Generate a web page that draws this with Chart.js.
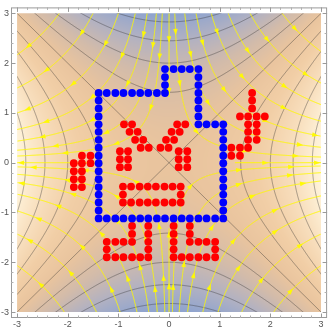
<!DOCTYPE html>
<html><head><meta charset="utf-8">
<script src="https://cdn.jsdelivr.net/npm/chart.js@4"></script>
<style>html,body{margin:0;padding:0;background:#fff;}#wrap{width:331px;height:330px;}</style>
</head><body><div id="wrap"><canvas id="c" width="331" height="330"></canvas></div>
<script>
// ---- data ----
const tickValues = [-3,-2,-1,0,1,2,3];
const tickLabels = ['-3','-2','-1','0','1','2','3'];
const contourLevels = [-8,-6,-4,-2,0,2,4,6,8];
const colorStops = [
  [-9,[141,163,207]],[-6,[177,177,194]],[-3,[210,187,170]],[0,[233,196,158]],
  [3,[241,206,166]],[6,[248,223,190]],[9,[255,245,221]]
];
// streamline constants |x*y| per quadrant
const streamQ1 = [0.34,0.93,1.6,2.5,3.5,4.8,6.7];
const streamQ2 = [0.4,0.75,1.3,2.0,3.0,4.5,6.5];
const streamQ3 = [0.25,0.7,1.2,1.9,2.9,4.3,6.2];
const streamQ4 = [0.2,0.6,1.1,2.0,2.9,4.3,6.2];

const bluePoints = [
  [-1.39,1.40],[-1.23,1.40],[-1.06,1.40],[-0.90,1.40],[-0.73,1.40],[-0.57,1.40],[-0.41,1.40],[-0.24,1.40],[-0.08,1.40],
  [-0.08,1.56],[-0.08,1.72],[-0.08,1.88],
  [0.09,1.88],[0.25,1.88],[0.41,1.88],[0.58,1.88],
  [0.58,1.72],[0.58,1.56],[0.58,1.40],[0.58,1.25],[0.58,1.09],[0.58,0.93],[0.58,0.77],
  [0.74,0.77],[0.91,0.77],[1.07,0.77],
  [1.07,0.62],[1.07,0.46],[1.07,0.30],[1.07,0.14],[1.07,-0.01],[1.07,-0.17],[1.07,-0.33],[1.07,-0.49],[1.07,-0.64],[1.07,-0.80],[1.07,-0.96],[1.07,-1.12],
  [0.91,-1.12],[0.74,-1.12],[0.58,-1.12],[0.41,-1.12],[0.25,-1.12],[0.09,-1.12],[-0.08,-1.12],[-0.24,-1.12],[-0.41,-1.12],[-0.57,-1.12],[-0.73,-1.12],[-0.90,-1.12],[-1.06,-1.12],[-1.23,-1.12],[-1.39,-1.12],
  [-1.39,-0.96],[-1.39,-0.80],[-1.39,-0.64],[-1.39,-0.49],[-1.39,-0.33],[-1.39,-0.17],[-1.39,-0.01],[-1.39,0.14],[-1.39,0.30],[-1.39,0.46],[-1.39,0.62],[-1.39,0.77],[-1.39,0.93],[-1.39,1.09],[-1.39,1.25]
];
const redPoints = [
  [-1.72,0.14],[-1.55,0.14],
  [-1.88,-0.01],[-1.72,-0.01],[-1.55,-0.01],
  [-1.88,-0.17],[-1.72,-0.17],
  [-1.88,-0.33],[-1.72,-0.33],
  [-1.88,-0.49],[-1.72,-0.49],
  [-0.89,0.77],[-0.73,0.77],[-0.78,0.62],[-0.62,0.62],[-0.67,0.46],[-0.51,0.46],[-0.56,0.30],[-0.40,0.30],
  [0.16,0.77],[0.32,0.77],[0.05,0.62],[0.21,0.62],[-0.06,0.46],[0.10,0.46],[-0.17,0.30],[-0.01,0.30],
  [-0.97,0.23],[-0.81,0.23],[-0.97,0.07],[-0.81,0.07],[-0.97,-0.09],[-0.81,-0.09],
  [0.19,0.23],[0.36,0.23],[0.19,0.07],[0.36,0.07],[0.19,-0.09],[0.36,-0.09],
  [-0.91,-0.48],[-0.75,-0.48],[-0.58,-0.48],[-0.42,-0.48],[-0.26,-0.48],[-0.09,-0.48],[0.07,-0.48],[0.23,-0.48],
  [-0.91,-0.64],[0.23,-0.64],
  [-0.91,-0.80],[-0.75,-0.80],[-0.58,-0.80],[-0.42,-0.80],[-0.26,-0.80],[-0.09,-0.80],[0.07,-0.80],[0.23,-0.80],
  [1.64,1.40],[1.64,1.25],[1.64,1.09],
  [1.40,0.93],[1.56,0.93],[1.73,0.93],[1.89,0.93],
  [1.56,0.77],[1.73,0.77],[1.56,0.62],[1.73,0.62],[1.56,0.46],[1.73,0.46],
  [1.23,0.30],[1.40,0.30],[1.56,0.30],
  [1.23,0.14],[1.40,0.14],
  [-0.73,-1.27],[-0.41,-1.27],[-0.73,-1.43],[-0.41,-1.43],
  [-1.23,-1.59],[-1.06,-1.59],[-0.90,-1.59],[-0.73,-1.59],[-0.41,-1.59],
  [-1.23,-1.74],[-0.41,-1.74],
  [-1.23,-1.90],[-1.06,-1.90],[-0.90,-1.90],[-0.73,-1.90],[-0.57,-1.90],[-0.41,-1.90],
  [0.09,-1.27],[0.41,-1.27],[0.09,-1.43],[0.41,-1.43],
  [0.09,-1.59],[0.41,-1.59],[0.58,-1.59],[0.74,-1.59],[0.91,-1.59],
  [0.09,-1.74],[0.91,-1.74],
  [0.09,-1.90],[0.25,-1.90],[0.41,-1.90],[0.58,-1.90],[0.74,-1.90],[0.91,-1.90]
];

// ---- helpers ----
function field(x,y){ return x*x - y*y; }
function colorAt(f){
  if (f<=colorStops[0][0]) return colorStops[0][1];
  for (let i=1;i<colorStops.length;i++){
    const a=colorStops[i-1], b=colorStops[i];
    if (f<=b[0]){ const t=(f-a[0])/(b[0]-a[0]);
      return [a[1][0]+(b[1][0]-a[1][0])*t, a[1][1]+(b[1][1]-a[1][1])*t, a[1][2]+(b[1][2]-a[1][2])*t]; }
  }
  return colorStops[colorStops.length-1][1];
}

const fieldPlugin = {
  id:'field',
  beforeDatasetsDraw(chart){
    const ctx = chart.ctx, sx = chart.scales.x, sy = chart.scales.y;
    const X = v=>sx.getPixelForValue(v), Y = v=>sy.getPixelForValue(v);
    const x0=X(-3), x1=X(3), y0=Y(3), y1=Y(-3);
    const L=Math.floor(x0), T=Math.floor(y0), W=Math.ceil(x1)-L, H=Math.ceil(y1)-T;
    const off=document.createElement('canvas'); off.width=W; off.height=H;
    const octx=off.getContext('2d'); const img=octx.createImageData(W,H);
    for (let j=0;j<H;j++){
      const yv=sy.getValueForPixel(T+j+0.5);
      for (let i=0;i<W;i++){
        const xv=sx.getValueForPixel(L+i+0.5);
        const c=colorAt(field(xv,yv)); const k=(j*W+i)*4;
        img.data[k]=c[0]; img.data[k+1]=c[1]; img.data[k+2]=c[2]; img.data[k+3]=255;
      }
    }
    octx.putImageData(img,0,0);
    ctx.save();
    ctx.beginPath(); ctx.rect(x0,y0,x1-x0,y1-y0); ctx.clip();
    ctx.drawImage(off,L,T);
    // contour lines
    ctx.strokeStyle='rgba(50,50,50,0.5)'; ctx.lineWidth=0.8;
    for (const c of contourLevels){
      if (c===0){
        ctx.beginPath(); ctx.moveTo(X(-3),Y(-3)); ctx.lineTo(X(3),Y(3));
        ctx.moveTo(X(-3),Y(3)); ctx.lineTo(X(3),Y(-3)); ctx.stroke();
      } else {
        for (const sgn of [-1,1]){
          ctx.beginPath();
          for (let u=-3.2; u<=3.2001; u+=0.01){
            let px,py;
            if (c>0){ px=X(sgn*Math.sqrt(c+u*u)); py=Y(u); }
            else { px=X(u); py=Y(sgn*Math.sqrt(-c+u*u)); }
            if (u<-3.19) ctx.moveTo(px,py); else ctx.lineTo(px,py);
          }
          ctx.stroke();
        }
      }
    }
    // streamlines of (x,-y)
    ctx.strokeStyle='rgba(255,250,0,0.95)'; ctx.fillStyle='rgba(255,250,0,0.95)'; ctx.lineWidth=1;
    function arrowsAlong(pts, offset){
      ctx.beginPath(); ctx.moveTo(pts[0][0],pts[0][1]);
      for (let i=1;i<pts.length;i++) ctx.lineTo(pts[i][0],pts[i][1]);
      ctx.stroke();
      let acc=0, next=offset;
      for (let i=1;i<pts.length;i++){
        const dx=pts[i][0]-pts[i-1][0], dy=pts[i][1]-pts[i-1][1];
        const d=Math.hypot(dx,dy); acc+=d;
        if (acc>=next && d>0){
          const ux=dx/d, uy=dy/d, px=pts[i][0], py=pts[i][1];
          ctx.beginPath();
          ctx.moveTo(px+ux*3.4, py+uy*3.4);
          ctx.lineTo(px-ux*3-uy*2.3, py-uy*3+ux*2.3);
          ctx.lineTo(px-ux*3+uy*2.3, py-uy*3-ux*2.3);
          ctx.closePath(); ctx.fill();
          next+=52;
        }
      }
    }
    const quads=[[1,1,streamQ1],[-1,1,streamQ2],[-1,-1,streamQ3],[1,-1,streamQ4]];
    let idx=0;
    for (const [qx,qy,list] of quads){
      for (const cval of list){
        const s=Math.sqrt(cval), tm=Math.log(3/s), pts=[];
        for (let t=-tm; t<=tm+1e-9; t+=0.004) pts.push([X(qx*s*Math.exp(t)), Y(qy*s*Math.exp(-t))]);
        arrowsAlong(pts, 18+(idx*23)%34); idx++;
      }
    }
    // axes as streamlines (outer parts)
    for (const sg of [-1,1]){
      const a=[], b=[];
      for (let u=1.3; u<=3.0001; u+=0.02){ a.push([X(sg*u),Y(0)]); }
      for (let u=3; u>=1.3; u-=0.02){ b.push([X(0),Y(sg*u)]); }
      arrowsAlong(a, 30); arrowsAlong(b, 25);
    }
    ctx.restore();
  },
  afterDraw(chart){
    const ctx=chart.ctx, a=chart.chartArea, sx=chart.scales.x, sy=chart.scales.y;
    ctx.save();
    ctx.strokeStyle='#9a9a9a'; ctx.lineWidth=1;
    ctx.strokeRect(a.left+0.5,a.top+0.5,a.right-a.left-1,a.bottom-a.top-1);
    const minor=[];
    for (let i=-15;i<=15;i++){ if (i%5!==0) minor.push(i/5); }
    function tk(v,len){
      const px=Math.round(sx.getPixelForValue(v))+0.5, py=Math.round(sy.getPixelForValue(v))+0.5;
      ctx.beginPath();
      ctx.moveTo(px,a.bottom); ctx.lineTo(px,a.bottom-len);
      ctx.moveTo(px,a.top); ctx.lineTo(px,a.top+len);
      ctx.moveTo(a.left,py); ctx.lineTo(a.left+len,py);
      ctx.moveTo(a.right,py); ctx.lineTo(a.right-len,py);
      ctx.stroke();
    }
    tickValues.forEach(v=>tk(v,4.5));
    ctx.strokeStyle='#b0b0b0';
    minor.forEach(v=>tk(v,2.5));
    ctx.restore();
  }
};

const fontSpec={family:'"Liberation Sans", Arial, sans-serif', size:9};
new Chart(document.getElementById('c'),{
  type:'scatter',
  data:{datasets:[
    {data:bluePoints.map(p=>({x:p[0],y:p[1]})), backgroundColor:'#0000ff', borderColor:'#0000ff', pointRadius:3.9, pointBorderWidth:0, pointHoverRadius:3.9},
    {data:redPoints.map(p=>({x:p[0],y:p[1]})), backgroundColor:'#ff0000', borderColor:'#ff0000', pointRadius:3.9, pointBorderWidth:0, pointHoverRadius:3.9}
  ]},
  options:{
    responsive:false, animation:false, events:[],
    layout:{padding:{left:0,right:2,top:0,bottom:0}},
    plugins:{legend:{display:false}, tooltip:{enabled:false}},
    scales:{
      x:{type:'linear', min:-3.12, max:3.12, grid:{display:false, drawTicks:false}, border:{display:false},
         afterBuildTicks:s=>{s.ticks=tickValues.map(v=>({value:v}));},
         afterFit:s=>{s.height=12;},
         ticks:{padding:1, color:'#555', font:fontSpec, autoSkip:false, maxRotation:0, callback:(v,i)=>tickLabels[i]}},
      y:{type:'linear', min:-3.12, max:3.12, grid:{display:false, drawTicks:false}, border:{display:false},
         afterBuildTicks:s=>{s.ticks=tickValues.map(v=>({value:v}));},
         afterFit:s=>{s.width=11;},
         ticks:{padding:2, color:'#555', font:fontSpec, autoSkip:false, callback:(v,i)=>tickLabels[i]}}
    }
  },
  plugins:[fieldPlugin]
});
</script></body></html>
